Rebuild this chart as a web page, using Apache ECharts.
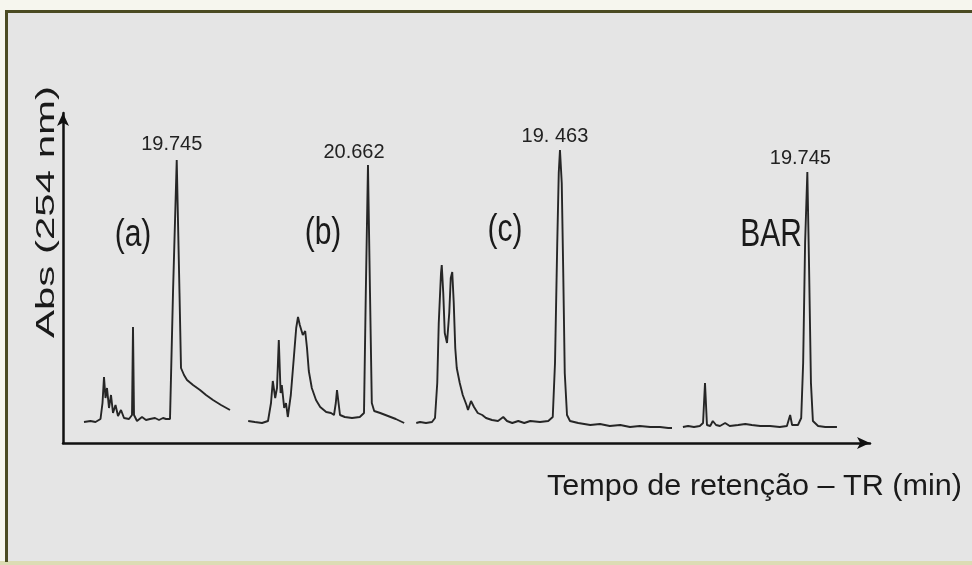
<!DOCTYPE html>
<html>
<head>
<meta charset="utf-8">
<script src="https://cdn.jsdelivr.net/npm/echarts@6/dist/echarts.min.js"></script>
<style>
html,body{margin:0;padding:0;background:#e5e5e5;}
#chart{width:972px;height:565px;}
</style>
</head>
<body>
<div id="chart"></div>
<script>
// Sample names and peak labels
const sampleNames = ['(a)', '(b)', '(c)', 'BAR'];
const peakLabels = ['19.745', '20.662', '19. 463', '19.745'];
const peakTimes = [19.745, 20.662, 19.463, 19.745];
const axisTitleX = 'Tempo de retenção – TR (min)';
const axisTitleY = 'Abs (254 nm)';

// Chromatogram traces: [retention time (min), absorbance (a.u.)]
const traceA = [
  [1.2,21],[2.5,22],[3.5,21],[4.5,24],[4.9,40],[5.2,66],[5.5,45],[5.8,55],[6.2,35],[6.6,48],
  [7.0,30],[7.5,38],[8.0,27],[8.6,33],[9.2,25],[10.2,24],[10.8,28],[11.0,116],[11.2,28],[11.8,22],
  [12.8,26],[13.6,23],[14.4,24],[15.4,25],[16.2,23],[17.0,25],[17.6,24],[18.4,24],[19.0,150],
  [19.745,283],[20.3,150],[20.6,75],[21.2,68],[21.8,63],[23.0,58],[24.4,53],[25.6,48],[27.0,43],
  [28.6,38],[30.4,33]
];
const traceB = [
  [0.7,22],[1.8,21],[3.0,20],[4.0,22],[4.5,40],[4.8,62],[5.2,45],[5.5,55],[5.8,103],[6.1,50],
  [6.3,58],[6.7,35],[7.0,40],[7.3,26],[7.8,48],[8.3,85],[8.7,115],[9.0,126],[9.3,118],[9.8,108],
  [10.2,112],[10.5,95],[10.8,72],[11.3,55],[12.0,43],[12.7,36],[13.7,31],[14.5,30],[15.0,28],
  [15.3,40],[15.5,53],[15.8,38],[16.0,28],[16.8,26],[18.0,25],[19.3,26],[20.0,30],[20.3,150],
  [20.662,278],[21.0,150],[21.3,40],[21.7,32],[22.7,30],[24.0,27],[25.3,24],[26.7,20]
];
const traceC = [
  [0.3,20],[0.8,21],[1.6,20],[2.4,21],[2.8,25],[3.1,60],[3.3,120],[3.6,170],[3.7,178],[3.9,150],
  [4.1,110],[4.4,100],[4.7,130],[4.9,165],[5.1,171],[5.3,140],[5.5,95],[5.7,75],[6.1,60],[6.5,48],
  [7.0,38],[7.2,33],[7.6,42],[8.0,36],[8.5,30],[9.1,28],[9.6,25],[10.4,23],[11.2,22],[11.9,26],
  [12.4,22],[13.1,20],[13.9,22],[14.7,20],[15.5,22],[16.8,21],[17.9,22],[18.5,26],[18.8,80],
  [19.1,200],[19.3,270],[19.463,293],[19.7,260],[19.9,170],[20.1,70],[20.4,28],[20.8,22],[21.9,20],
  [23.5,18],[24.8,19],[26.1,17],[27.5,18],[28.8,16],[30.1,17],[31.5,16],[32.8,16],[33.9,15],[34.4,15]
];
const traceBAR = [
  [0.6,16],[1.4,17],[2.3,16],[3.2,17],[3.7,20],[4.0,60],[4.3,18],[4.8,17],[5.2,22],[5.7,18],
  [6.3,17],[7.1,20],[7.8,17],[9.1,18],[10.2,19],[11.2,18],[12.5,17],[14.0,17],[15.5,16],[16.6,17],
  [17.1,28],[17.4,18],[18.3,18],[18.8,25],[19.1,80],[19.4,200],[19.745,271],[20.0,180],[20.3,60],
  [20.6,22],[21.4,17],[22.5,16],[23.5,16],[24.3,16]
];
const traces = [traceA, traceB, traceC, traceBAR];

// Layout (pixels / axis ranges)
const panelLeft = [78, 244, 414, 679];
const panelTMax = [31, 27, 35, 25];
const panelPxPerMin = [5, 6, 7.5, 6.5];
const plotTop = 113, plotHeight = 330, absMax = 330;
const labelOffsets = [[-5,-16],[-14,-13],[-5,-14],[-7,-14]];
const namePos = [[133,235],[323,233],[505,230],[771,235]];
const FONT = '"Liberation Sans", Arial, sans-serif';

const grids = [{left: 63, top: plotTop, width: 807, height: plotHeight}];
const xAxes = [{
  gridIndex: 0, type: 'value', min: 0, max: 1,
  axisLine: {show: true, symbol: ['none', 'arrow'], symbolSize: [9, 13], lineStyle: {color: '#111', width: 2.5}},
  axisTick: {show: false}, axisLabel: {show: false}, splitLine: {show: false}
}];
const yAxes = [{
  gridIndex: 0, type: 'value', min: 0, max: 1,
  axisLine: {show: true, symbol: ['none', 'arrow'], symbolSize: [9, 13], lineStyle: {color: '#111', width: 2.5}},
  axisTick: {show: false}, axisLabel: {show: false}, splitLine: {show: false}
}];
const series = [];
traces.forEach((tr, i) => {
  grids.push({left: panelLeft[i], top: plotTop, width: panelTMax[i] * panelPxPerMin[i], height: plotHeight});
  xAxes.push({gridIndex: i + 1, type: 'value', min: 0, max: panelTMax[i], show: false});
  yAxes.push({gridIndex: i + 1, type: 'value', min: 0, max: absMax, show: false});
  const peakAbs = Math.max(...tr.map(p => p[1]));
  series.push({
    type: 'line', xAxisIndex: i + 1, yAxisIndex: i + 1, data: tr,
    showSymbol: false, symbol: 'none', animation: false, silent: true,
    lineStyle: {color: '#262626', width: 1.9},
    markPoint: {
      symbol: 'circle', symbolSize: 0, silent: true, animation: false,
      data: [{coord: [peakTimes[i], peakAbs]}],
      label: {show: true, formatter: peakLabels[i], position: 'inside', offset: labelOffsets[i],
        fontSize: 20, color: '#222', fontFamily: FONT}
    }
  });
});

const graphic = [
  {type: 'rect', shape: {x: 0, y: 0, width: 972, height: 10}, style: {fill: '#f6f6ee'}, silent: true},
  {type: 'rect', shape: {x: 0, y: 0, width: 5, height: 565}, style: {fill: '#f6f6ee'}, silent: true},
  {type: 'rect', shape: {x: 0, y: 561, width: 972, height: 4}, style: {fill: '#dcdcb4'}, silent: true},
  {type: 'polyline', shape: {points: [[6.5, 562], [6.5, 11.5], [972, 11.5]]}, style: {stroke: '#4b4b22', lineWidth: 3, fill: null}, silent: true},
  {type: 'text', x: 547, y: 487, style: {text: axisTitleX, font: '30px ' + FONT, fill: '#1a1a1a', textAlign: 'left', textVerticalAlign: 'middle'}, scaleX: 1.02},
  {type: 'text', x: 47, y: 212, rotation: Math.PI / 2, scaleX: 1.68,
    style: {text: axisTitleY, font: '25px ' + FONT, fill: '#1a1a1a', textAlign: 'center', textVerticalAlign: 'middle'}}
];
sampleNames.forEach((n, i) => {
  graphic.push({type: 'text', x: namePos[i][0], y: namePos[i][1], scaleY: 1.3,
    style: {text: n, font: '30px ' + FONT, fill: '#1a1a1a', textAlign: 'center', textVerticalAlign: 'middle'}});
});

const chart = echarts.init(document.getElementById('chart'), null, {renderer: 'canvas'});
chart.setOption({
  backgroundColor: '#e5e5e5',
  animation: false,
  grid: grids, xAxis: xAxes, yAxis: yAxes, series: series, graphic: graphic
});
</script>
</body>
</html>
